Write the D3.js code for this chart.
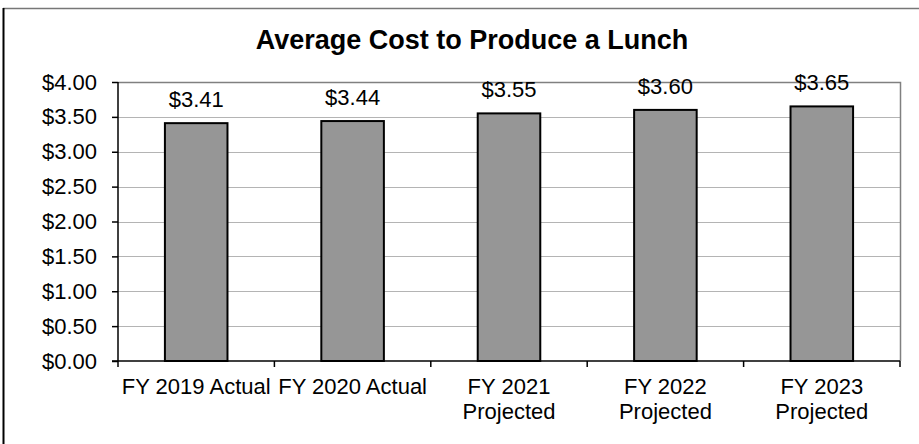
<!DOCTYPE html>
<html>
<head>
<meta charset="utf-8">
<script src="https://cdn.jsdelivr.net/npm/d3@7"></script>
<style>
  body { margin: 0; background: #fff; }
  text { font-family: "Liberation Sans", Arial, sans-serif; fill: #000; }
</style>
</head>
<body>
<script>
var categories = [['FY 2019 Actual'], ['FY 2020 Actual'], ['FY 2021', 'Projected'], ['FY 2022', 'Projected'], ['FY 2023', 'Projected']]
var costs = [3.41, 3.44, 3.55, 3.60, 3.65]
var yTicks = [0, 0.5, 1, 1.5, 2, 2.5, 3, 3.5, 4]

var width = 919, height = 444
var plot = {left: 118, right: 900, top: 82, bottom: 361}
var fontSize = 22

var svg = d3.select('body').append('svg')
  .attr('width', width)
  .attr('height', height)

// chart frame
svg.append('line').attr('x1', 3).attr('x2', width).attr('y1', 8.5).attr('y2', 8.5)
  .attr('stroke', '#777').attr('stroke-width', 1.5)
svg.append('line').attr('x1', 3.5).attr('x2', 3.5).attr('y1', 8).attr('y2', height)
  .attr('stroke', '#000').attr('stroke-width', 2)

svg.append('text')
  .attr('x', 472).attr('y', 49)
  .attr('text-anchor', 'middle')
  .attr('font-size', 27).attr('font-weight', 'bold')
  .text('Average Cost to Produce a Lunch')

var x = d3.scaleBand()
  .domain(d3.range(costs.length))
  .range([plot.left, plot.right])
  .paddingInner(0).paddingOuter(0)

var y = d3.scaleLinear().domain([0, 4]).range([plot.bottom, plot.top])

// gridlines
svg.append('g').selectAll('line')
  .data(yTicks.filter(function (d) { return d > 0 && d < 4 }))
  .enter().append('line')
  .attr('x1', plot.left).attr('x2', plot.right)
  .attr('y1', function (d) { return Math.round(y(d)) + 0.5 })
  .attr('y2', function (d) { return Math.round(y(d)) + 0.5 })
  .attr('stroke', '#b4b4b4').attr('stroke-width', 1)

// plot border top / right
svg.append('path')
  .attr('d', 'M' + plot.left + ',' + (plot.top + 0.5) + 'H' + (plot.right + 0.5) + 'V' + plot.bottom)
  .attr('fill', 'none').attr('stroke', '#808080').attr('stroke-width', 1.5)

// bars
var barW = x.bandwidth() * 0.4
svg.append('g').selectAll('rect')
  .data(costs)
  .enter().append('rect')
  .attr('x', function (d, i) { return x(i) + (x.bandwidth() - barW) / 2 })
  .attr('y', function (d) { return y(d) })
  .attr('width', barW)
  .attr('height', function (d) { return y(0) - y(d) })
  .attr('fill', '#969696')
  .attr('stroke', '#000').attr('stroke-width', 2)

// value labels
svg.append('g').selectAll('text')
  .data(costs)
  .enter().append('text')
  .attr('x', function (d, i) { return x(i) + x.bandwidth() / 2 })
  .attr('y', function (d) { return y(d) - 16 })
  .attr('text-anchor', 'middle')
  .attr('font-size', fontSize)
  .text(function (d) { return '$' + d.toFixed(2) })

// y axis
var yAxis = svg.append('g')
  .attr('transform', 'translate(' + plot.left + ',0)')
  .call(d3.axisLeft(y).tickValues(yTicks).tickSize(6).tickPadding(15)
    .tickFormat(function (d) { return '$' + d.toFixed(2) }))
yAxis.selectAll('text').attr('font-size', fontSize).attr('font-family', null)
yAxis.selectAll('line, path').attr('stroke', '#000').attr('stroke-width', 1.5)
yAxis.select('.domain').attr('d', 'M0,' + plot.top + 'V' + plot.bottom)

// x axis
var xAxis = svg.append('g')
  .attr('transform', 'translate(0,' + plot.bottom + ')')
xAxis.append('line')
  .attr('x1', plot.left - 6).attr('x2', plot.right)
  .attr('stroke', '#000').attr('stroke-width', 1.5)
xAxis.selectAll('line.tick')
  .data(d3.range(costs.length + 1))
  .enter().append('line')
  .attr('class', 'tick')
  .attr('x1', function (i) { return i < costs.length ? x(i) : plot.right })
  .attr('x2', function (i) { return i < costs.length ? x(i) : plot.right })
  .attr('y1', 0).attr('y2', 6)
  .attr('stroke', '#000').attr('stroke-width', 1.5)

var labels = xAxis.selectAll('text')
  .data(categories)
  .enter().append('text')
  .attr('text-anchor', 'middle')
  .attr('font-size', fontSize)
  .attr('transform', function (d, i) { return 'translate(' + (x(i) + x.bandwidth() / 2) + ',33)' })
labels.selectAll('tspan')
  .data(function (d) { return d })
  .enter().append('tspan')
  .attr('x', 0)
  .attr('dy', function (d, i) { return i === 0 ? 0 : 25 })
  .text(function (d) { return d })
</script>
</body>
</html>
